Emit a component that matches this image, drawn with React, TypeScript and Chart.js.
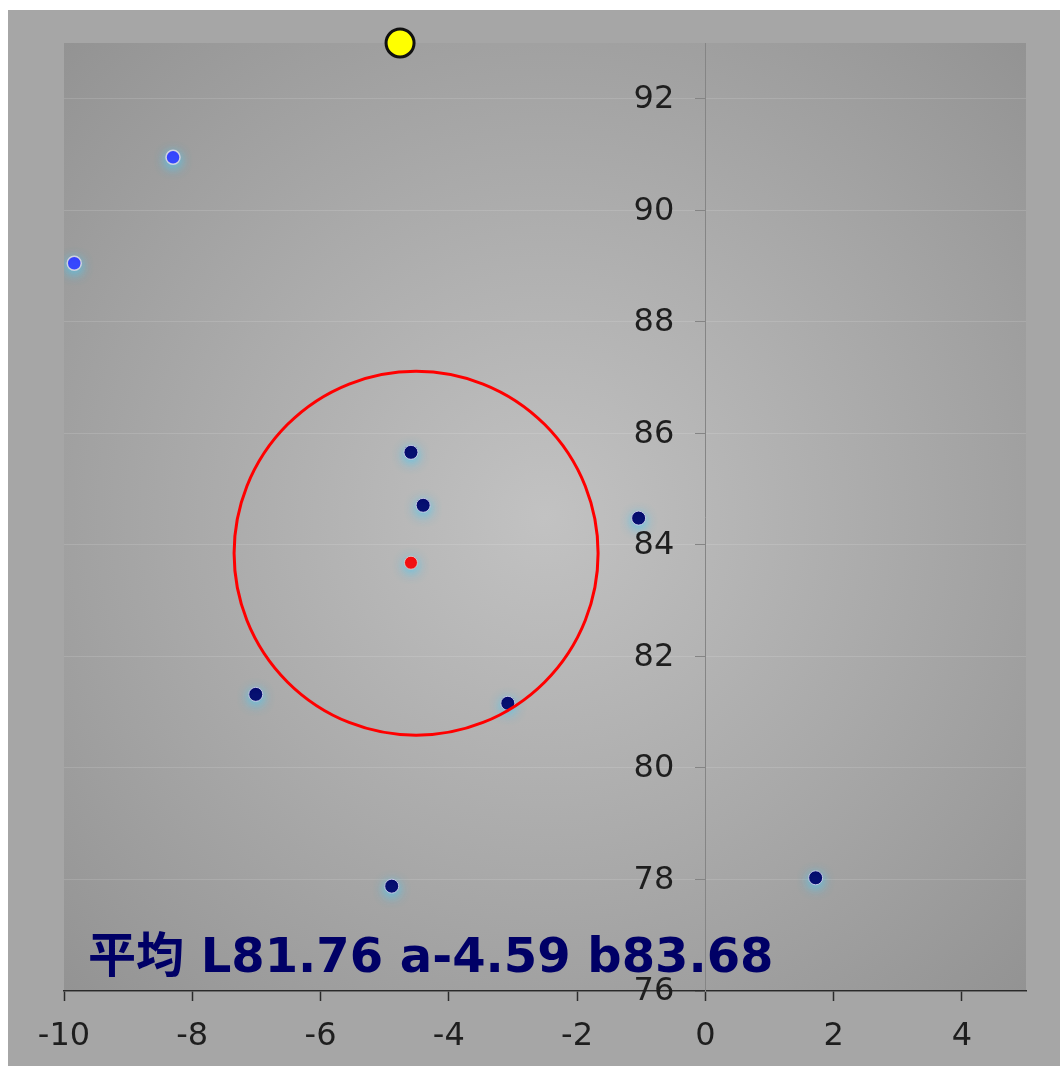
import React, { useEffect, useRef } from 'react';
import { Chart, registerables } from 'chart.js';

Chart.register(...registerables);

// Sample points (a, b)
const sampleA = [-4.59, -4.40, -1.04, -7.01, -3.08, -4.89, 1.72];
const sampleB = [85.66, 84.71, 84.48, 81.32, 81.16, 77.88, 78.03];
// Highlighted points
const blueA = [-8.30, -9.84];
const blueB = [90.95, 89.05];
// Mean point
const meanA = [-4.59];
const meanB = [83.68];
// Target (yellow)
const targetA = [-4.76];
const targetB = [93];
// Tolerance circle centre
const circleA = [-4.51];
const circleB = [83.85];

const xMin = -10;
const xMax = 5;
const yMin = 76;
const yMax = 93;
const tickStep = 2;
const titleText = '平均 L81.76 a-4.59 b83.68';

const pts = (xs: number[], ys: number[]) => xs.map((x, i) => ({ x, y: ys[i] }));

const bgPlugin = {
  id: 'bgPlugin',
  beforeDraw(chart: any) {
    const { ctx, chartArea } = chart;
    if (!chartArea) return;
    const { left, top, right, bottom } = chartArea;
    const cx = left + (right - left) * 0.5;
    const cy = top + (bottom - top) * 0.5;
    const r = Math.hypot(right - left, bottom - top) * 0.5;
    const g = ctx.createRadialGradient(cx, cy, 0, cx, cy, r);
    g.addColorStop(0, '#c2c2c2');
    g.addColorStop(1, '#939393');
    ctx.save();
    ctx.fillStyle = g;
    ctx.fillRect(left, top, right - left, bottom - top);
    ctx.restore();
  },
};

const glowPlugin = {
  id: 'glowPlugin',
  beforeDatasetDraw(chart: any, args: any) {
    const ds = chart.data.datasets[args.index];
    chart.ctx.save();
    if (ds.glow) {
      chart.ctx.shadowColor = 'rgba(80,200,240,0.95)';
      chart.ctx.shadowBlur = 11;
      chart.ctx.shadowOffsetX = 0;
      chart.ctx.shadowOffsetY = 3;
    }
  },
  afterDatasetDraw(chart: any) {
    chart.ctx.restore();
  },
};

// y tick labels drawn to the left of the y axis (which sits at x = 0)
const yLabelPlugin = {
  id: 'yLabelPlugin',
  afterDraw(chart: any) {
    const { ctx } = chart;
    const ys = chart.scales.y;
    const xs = chart.scales.x;
    const axisX = xs.getPixelForValue(0);
    ctx.save();
    ctx.font = '32px "DejaVu Sans", sans-serif';
    ctx.fillStyle = '#1e1e1e';
    ctx.textAlign = 'right';
    ctx.textBaseline = 'middle';
    ys.ticks.forEach((t: any) => {
      ctx.fillText(String(t.value), axisX - 31, ys.getPixelForValue(t.value) + 1);
    });
    ctx.restore();
  },
};

const titlePlugin = {
  id: 'titlePlugin',
  afterDraw(chart: any) {
    const { ctx, chartArea } = chart;
    ctx.save();
    ctx.font = 'bold 48px "DejaVu Sans", "Noto Sans CJK JP", sans-serif';
    ctx.fillStyle = '#000066';
    ctx.textAlign = 'left';
    ctx.textBaseline = 'alphabetic';
    ctx.fillText(titleText, chartArea.left + 24, chartArea.bottom - 19);
    ctx.restore();
  },
};

export default function App() {
  const ref = useRef<HTMLCanvasElement | null>(null);

  useEffect(() => {
    if (!ref.current) return;
    const chart = new Chart(ref.current, {
      type: 'scatter',
      data: {
        datasets: [
          {
            label: 'circle',
            data: pts(circleA, circleB),
            pointRadius: 182,
            pointHoverRadius: 182,
            pointBackgroundColor: 'rgba(0,0,0,0)',
            pointBorderColor: '#ff0000',
            pointBorderWidth: 3,
          } as any,
          {
            label: 'samples',
            data: pts(sampleA, sampleB),
            pointRadius: 7,
            pointBackgroundColor: '#000066',
            pointBorderColor: 'rgba(210,210,235,0.9)',
            pointBorderWidth: 1,
            glow: true,
          } as any,
          {
            label: 'blue',
            data: pts(blueA, blueB),
            pointRadius: 7,
            pointBackgroundColor: '#3333ff',
            pointBorderColor: 'rgba(215,215,225,0.95)',
            pointBorderWidth: 1.5,
            glow: true,
          } as any,
          {
            label: 'mean',
            data: pts(meanA, meanB),
            pointRadius: 6.5,
            pointBackgroundColor: '#ff0000',
            pointBorderColor: 'rgba(220,200,200,0.9)',
            pointBorderWidth: 1,
            glow: true,
          } as any,
          {
            label: 'target',
            data: pts(targetA, targetB),
            pointRadius: 14,
            pointBackgroundColor: '#ffff00',
            pointBorderColor: '#111111',
            pointBorderWidth: 3,
            clip: false,
          } as any,
        ],
      },
      options: {
        animation: false,
        responsive: false,
        events: [],
        layout: { autoPadding: false, padding: { left: 56, top: 33, right: 34, bottom: 0 } },
        plugins: {
          legend: { display: false },
          tooltip: { enabled: false },
        },
        scales: {
          x: {
            type: 'linear',
            min: xMin,
            max: xMax,
            position: 'bottom',
            afterFit(scale: any) {
              scale.height = 75;
            },
            ticks: {
              stepSize: tickStep,
              includeBounds: false,
              color: '#1e1e1e',
              font: { family: '"DejaVu Sans", sans-serif', size: 32 },
              padding: 16,
              maxRotation: 0,
            },
            grid: {
              drawOnChartArea: false,
              tickLength: 10,
              tickColor: '#2a2a2a',
              tickWidth: 1.5,
            },
            border: { color: '#2a2a2a', width: 1.5 },
          },
          y: {
            type: 'linear',
            min: yMin,
            max: yMax,
            position: { x: 0 } as any,
            ticks: {
              stepSize: tickStep,
              includeBounds: false,
              display: false,
            },
            grid: {
              color: 'rgba(255,255,255,0.13)',
              tickLength: 10,
              tickColor: '#858585',
              lineWidth: 1,
            },
            border: { color: '#858585', width: 1 },
          },
        },
      } as any,
      plugins: [bgPlugin, glowPlugin, yLabelPlugin, titlePlugin],
    });
    return () => chart.destroy();
  }, []);

  return (
    <div
      style={{
        position: 'absolute',
        left: 8,
        top: 10,
        width: 1060,
        height: 1060,
        background: '#a6a6a6',
      }}
    >
      <canvas ref={ref} width={1052} height={1056} style={{ display: 'block' }} />
    </div>
  );
}
